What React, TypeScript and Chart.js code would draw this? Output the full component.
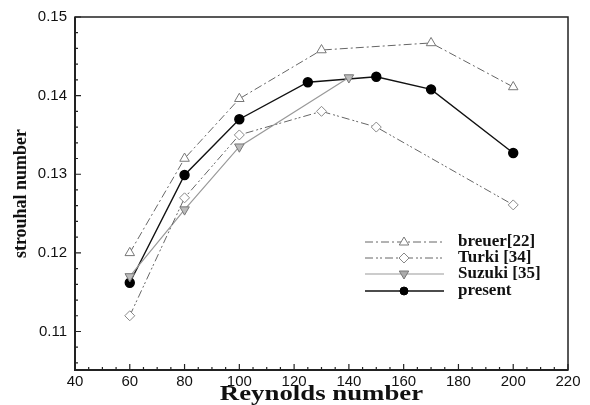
import React, { useEffect, useRef } from "react";
import { Chart, registerables } from "chart.js";

Chart.register(...registerables);

const reBreuer = [60, 80, 100, 130, 170, 200];
const stBreuer = [0.12, 0.132, 0.1396, 0.1458, 0.1467, 0.1411];
const reTurki = [60, 80, 100, 130, 150, 200];
const stTurki = [0.112, 0.127, 0.135, 0.138, 0.136, 0.1261];
const reSuzuki = [60, 80, 100, 140];
const stSuzuki = [0.117, 0.1255, 0.1335, 0.1423];
const rePresent = [60, 80, 100, 125, 150, 170, 200];
const stPresent = [0.1162, 0.1299, 0.137, 0.1417, 0.1424, 0.1408, 0.1327];

const legendLabels = ["breuer[22]", "Turki [34]", "Suzuki [35]", "present"];
const xTitle = "Reynolds number";
const yTitle = "strouhal number";

const pts = (xs: number[], ys: number[]) => xs.map((x, i) => ({ x, y: ys[i] }));

function drawMarker(ctx: CanvasRenderingContext2D, kind: string, x: number, y: number, r: number, fill: string, stroke: string) {
  ctx.save();
  ctx.setLineDash([]);
  ctx.beginPath();
  if (kind === "tri") {
    ctx.moveTo(x, y - r);
    ctx.lineTo(x + r * 0.95, y + r * 0.6);
    ctx.lineTo(x - r * 0.95, y + r * 0.6);
    ctx.closePath();
  } else if (kind === "itri") {
    ctx.moveTo(x, y + r);
    ctx.lineTo(x + r * 0.95, y - r * 0.6);
    ctx.lineTo(x - r * 0.95, y - r * 0.6);
    ctx.closePath();
  } else if (kind === "dia") {
    ctx.moveTo(x, y - r);
    ctx.lineTo(x + r, y);
    ctx.lineTo(x, y + r);
    ctx.lineTo(x - r, y);
    ctx.closePath();
  } else {
    ctx.arc(x, y, r, 0, Math.PI * 2);
  }
  ctx.fillStyle = fill;
  ctx.fill();
  ctx.strokeStyle = stroke;
  ctx.lineWidth = 1;
  ctx.stroke();
  ctx.restore();
}

const framePlugin = {
  id: "frameTicks",
  afterDraw(chart: any) {
    const { ctx, chartArea: a, scales } = chart;
    const xs = scales.x;
    const ys = scales.y;
    ctx.save();
    ctx.strokeStyle = "#222";
    ctx.lineWidth = 1.5;
    ctx.strokeRect(a.left, a.top, a.right - a.left, a.bottom - a.top);
    ctx.lineWidth = 2;
    ctx.beginPath();
    ctx.moveTo(a.left, a.top);
    ctx.lineTo(a.left, a.bottom);
    ctx.lineTo(a.right, a.bottom);
    ctx.stroke();
    ctx.lineWidth = 1.2;
    ctx.beginPath();
    for (let v = 40; v <= 220; v += 5) {
      const px = xs.getPixelForValue(v);
      const len = v % 20 === 0 ? 6 : 3;
      ctx.moveTo(px, a.bottom);
      ctx.lineTo(px, a.bottom - len);
    }
    for (let k = 106; k <= 150; k += 2) {
      const v = k / 1000;
      const py = ys.getPixelForValue(v);
      const len = k % 10 === 0 ? 6 : 3;
      ctx.moveTo(a.left, py);
      ctx.lineTo(a.left + len, py);
    }
    ctx.stroke();

    // x-axis title (horizontally widened like the reference)
    ctx.save();
    ctx.fillStyle = "#111";
    ctx.font = "bold 20px 'Liberation Serif', serif";
    ctx.textAlign = "center";
    ctx.textBaseline = "middle";
    ctx.translate((a.left + a.right) / 2, 395);
    ctx.scale(1.34, 1);
    ctx.fillText(xTitle, 0, 0);
    ctx.restore();

    // legend
    const rows = [242, 258, 274, 291];
    const styles = [
      { dash: [8, 3, 2, 3], color: "#666", m: "tri", fill: "#fff", stroke: "#777", w: 1 },
      { dash: [8, 3, 2, 2, 2, 3], color: "#666", m: "dia", fill: "#fff", stroke: "#888", w: 1 },
      { dash: [], color: "#999", m: "itri", fill: "#aaa", stroke: "#777", w: 1.2 },
      { dash: [], color: "#111", m: "circ", fill: "#000", stroke: "#000", w: 1.4 },
    ];
    rows.forEach((y, i) => {
      const s = styles[i];
      ctx.save();
      ctx.strokeStyle = s.color;
      ctx.lineWidth = s.w;
      ctx.setLineDash(s.dash);
      ctx.beginPath();
      ctx.moveTo(365, y);
      ctx.lineTo(444, y);
      ctx.stroke();
      ctx.restore();
      drawMarker(ctx, s.m, 404, y, s.m === "circ" ? 4 : 5, s.fill, s.stroke);
      ctx.fillStyle = "#111";
      ctx.font = "bold 17px 'Liberation Serif', serif";
      ctx.textBaseline = "middle";
      ctx.textAlign = "left";
      ctx.fillText(legendLabels[i], 458, y);
    });
    ctx.restore();
  },
};

export default function App() {
  const ref = useRef<HTMLCanvasElement>(null);
  useEffect(() => {
    document.body.style.margin = "0";
    const chart = new Chart(ref.current as HTMLCanvasElement, {
      type: "line",
      data: {
        datasets: [
          {
            label: legendLabels[0],
            data: pts(reBreuer, stBreuer),
            borderColor: "#666",
            borderWidth: 1,
            borderDash: [8, 3, 2, 3],
            pointStyle: "triangle",
            pointRadius: 5.5,
            pointBackgroundColor: "#fff",
            pointBorderColor: "#777",
            pointBorderWidth: 1,
          },
          {
            label: legendLabels[1],
            data: pts(reTurki, stTurki),
            borderColor: "#666",
            borderWidth: 1,
            borderDash: [8, 3, 2, 2, 2, 3],
            pointStyle: "rectRot",
            pointRadius: 5,
            pointBackgroundColor: "#fff",
            pointBorderColor: "#888",
            pointBorderWidth: 1,
          },
          {
            label: legendLabels[2],
            data: pts(reSuzuki, stSuzuki),
            borderColor: "#999",
            borderWidth: 1.2,
            pointStyle: "triangle",
            rotation: 180,
            pointRadius: 5.5,
            pointBackgroundColor: "#bbb",
            pointBorderColor: "#777",
            pointBorderWidth: 1,
          },
          {
            label: legendLabels[3],
            data: pts(rePresent, stPresent),
            borderColor: "#111",
            borderWidth: 1.4,
            pointStyle: "circle",
            pointRadius: 4.5,
            pointBackgroundColor: "#000",
            pointBorderColor: "#000",
          },
        ],
      },
      options: {
        animation: false,
        responsive: false,
        layout: { padding: { top: 14, right: 22, left: 0, bottom: 0 } },
        plugins: { legend: { display: false }, tooltip: { enabled: false } },
        scales: {
          x: {
            type: "linear",
            min: 40,
            max: 220,
            afterFit: (s: any) => {
              s.height = 35;
            },
            grid: { display: false, drawTicks: false, tickLength: 0 },
            border: { display: false },
            ticks: {
              stepSize: 20,
              padding: 3,
              color: "#111",
              font: { family: "'Liberation Sans', Arial, sans-serif", size: 15 },
              maxRotation: 0,
            },
            title: { display: false },
          },
          y: {
            type: "linear",
            min: 0.1051,
            max: 0.15,
            afterFit: (s: any) => {
              s.width = 75;
            },
            afterBuildTicks: (s: any) => {
              s.ticks = [0.11, 0.12, 0.13, 0.14, 0.15].map((v) => ({ value: v }));
            },
            grid: { display: false, drawTicks: false, tickLength: 0 },
            border: { display: false },
            ticks: {
              padding: 8,
              color: "#111",
              font: { family: "'Liberation Sans', Arial, sans-serif", size: 15 },
              callback: (v: any) => Number(v).toFixed(2),
            },
            title: {
              display: true,
              text: yTitle,
              color: "#111",
              padding: { top: 12, bottom: 0 },
              font: { family: "'Liberation Serif', serif", size: 18, weight: "bold", lineHeight: 1 },
            },
          },
        },
      },
      plugins: [framePlugin],
    } as any);
    return () => chart.destroy();
  }, []);
  return (
    <div style={{ width: 590, height: 405, background: "#fff" }}>
      <canvas ref={ref} width={590} height={405} style={{ display: "block" }} />
    </div>
  );
}
